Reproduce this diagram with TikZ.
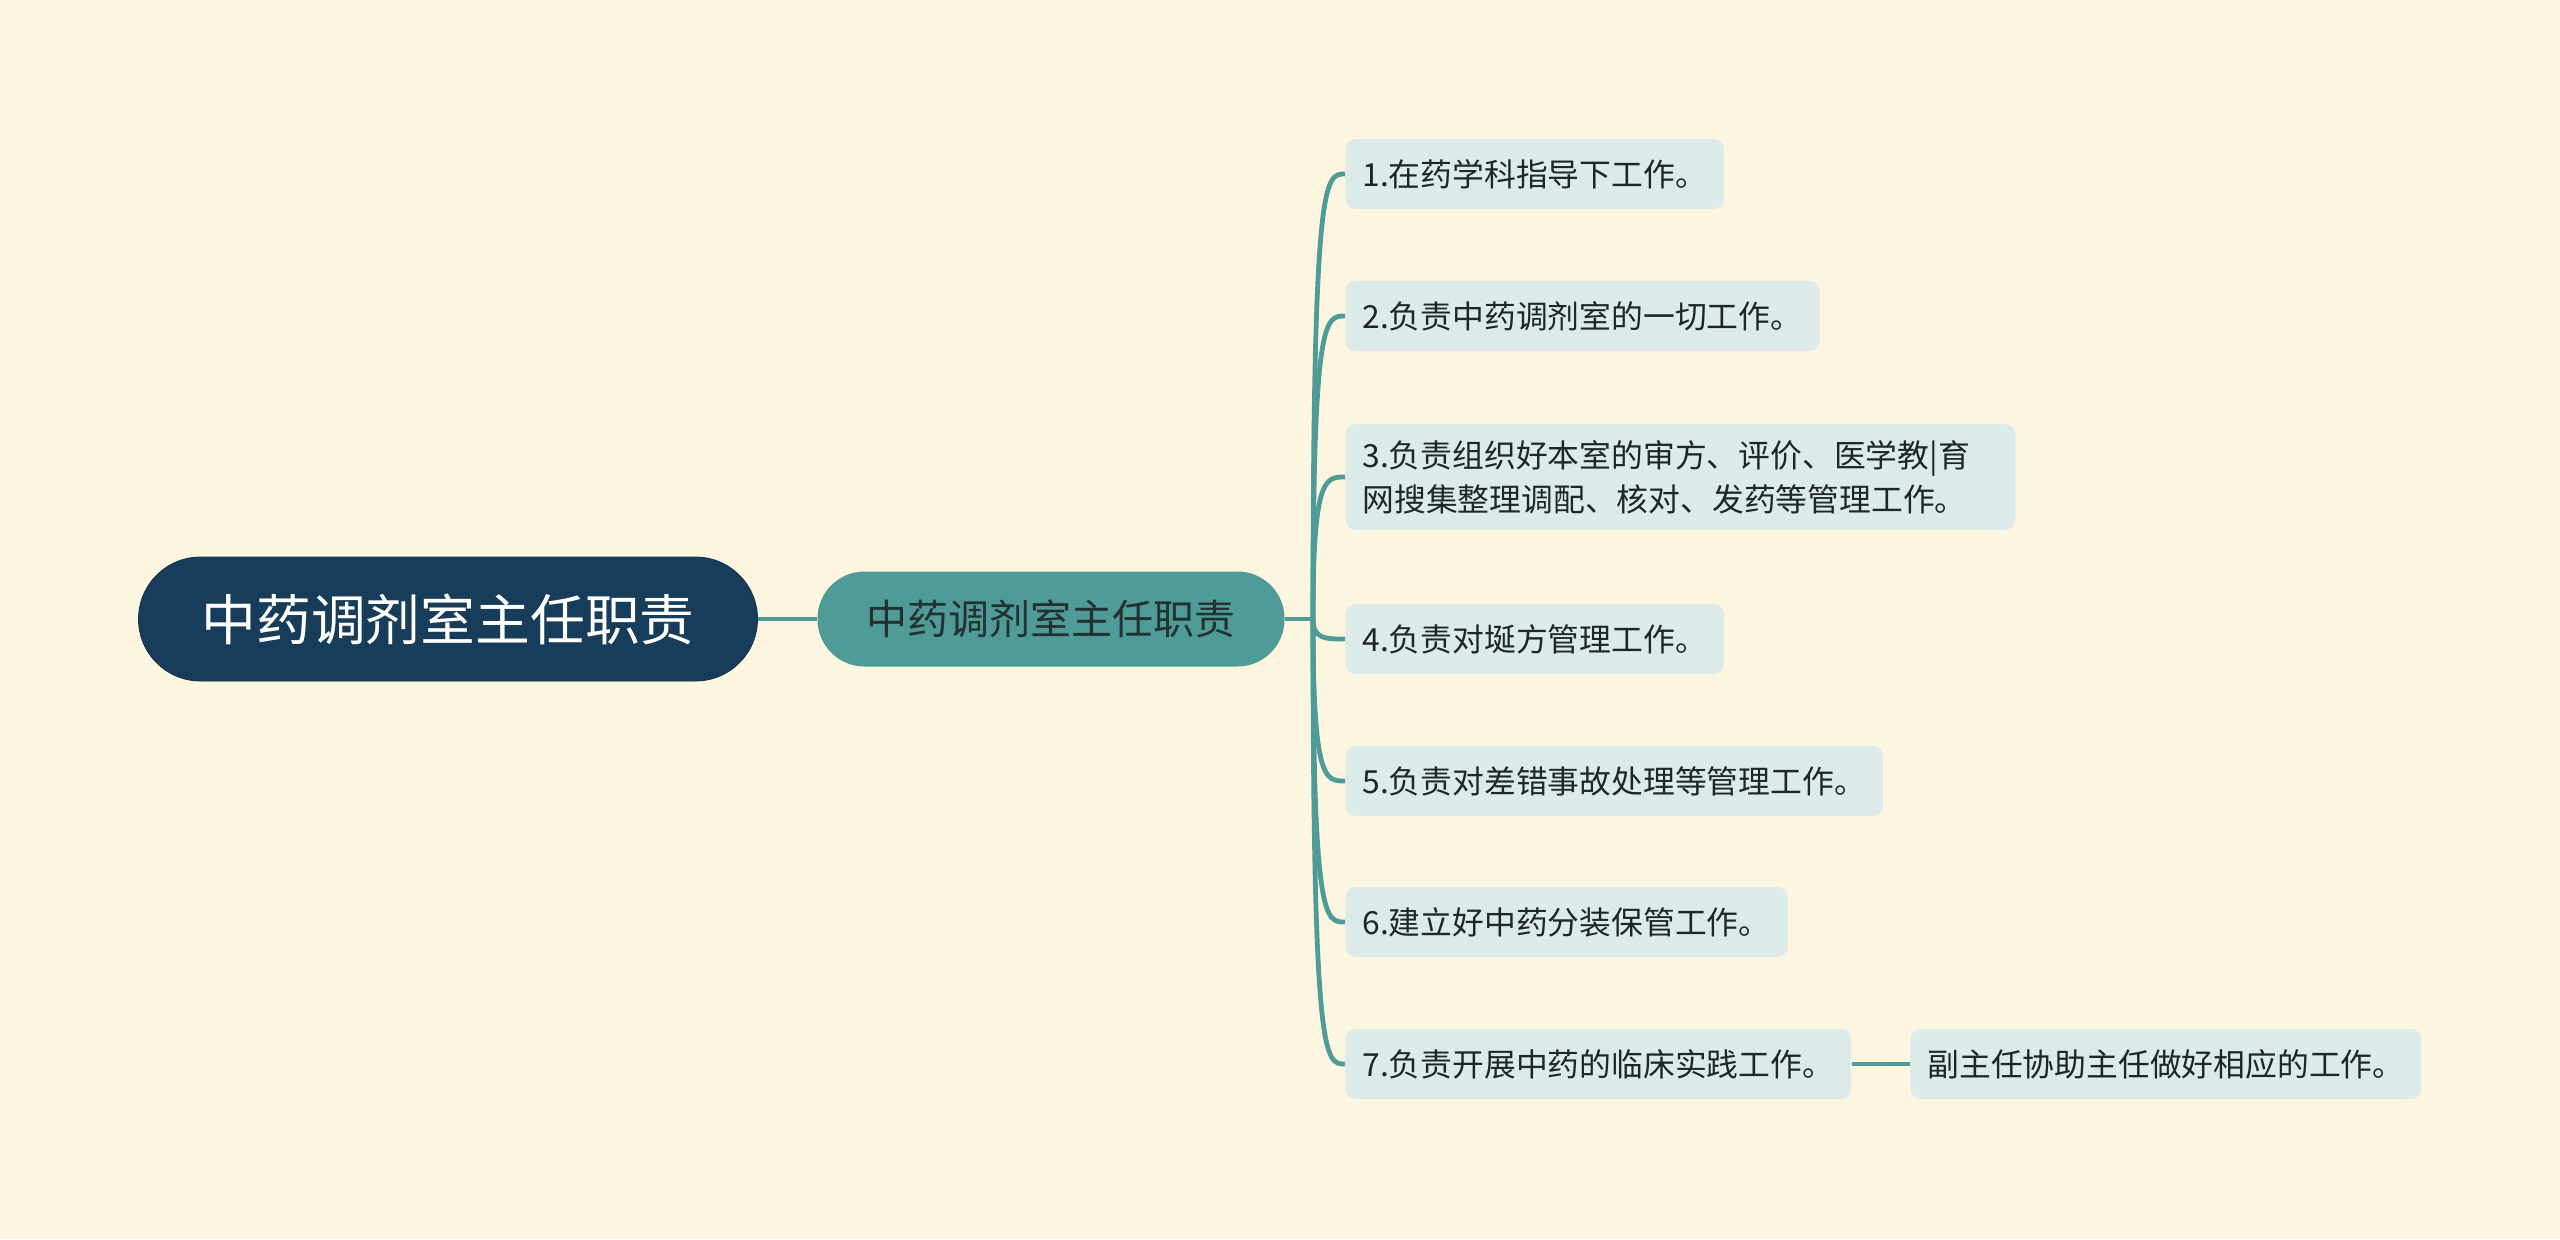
\documentclass[tikz,border=0pt]{standalone}
\usepackage{fontspec}
\setmainfont{Noto Sans CJK SC}
\usepackage{tikz}
\definecolor{bgcream}{HTML}{FCF6E0}
\definecolor{rootnavy}{HTML}{173D5B}
\definecolor{midteal}{HTML}{4E9B98}
\definecolor{leafblue}{HTML}{DCEBEA}
\definecolor{inktext}{HTML}{1E2626}

\begin{document}
\begin{tikzpicture}[x=0.5pt,y=-0.5pt,
    rootnode/.style={fill=rootnavy,draw=rootnavy!80!black,text=white,minimum width=309.5pt,minimum height=62pt,rounded corners=31pt,inner sep=0pt,font=\fontsize{27.4}{32}\selectfont},
    midnode/.style={fill=midteal,text=inktext!90!midteal,minimum width=233.5pt,minimum height=47.5pt,rounded corners=23.5pt,inner sep=0pt,font=\fontsize{20.5}{24}\selectfont},
    leafnode/.style={anchor=west,fill=leafblue,text=inktext,rounded corners=5pt,inner xsep=8.5pt,inner ysep=8pt,minimum height=35pt,align=left,font=\fontsize{15.9}{22}\selectfont},
    branch/.style={draw=midteal,line width=2.4pt}]
    \fill[bgcream] (0,0) rectangle (2560,1239);
    \useasboundingbox (0,0) rectangle (2560,1239);
    \node[rootnode] (root) at (448,619) {中药调剂室主任职责};
    \node[midnode] (mid) at (1051,619) {中药调剂室主任职责};
    \coordinate (hub) at (1313,619);
    \node[leafnode] (l1) at (1345,174) {1.在药学科指导下工作。};
    \node[leafnode] (l2) at (1345,316) {2.负责中药调剂室的一切工作。};
    \node[leafnode,text width=318pt] (l3) at (1345,477) {3.负责组织好本室的审方、评价、医学教|育\\网搜集整理调配、核对、发药等管理工作。};
    \node[leafnode] (l4) at (1345,639) {4.负责对埏方管理工作。};
    \node[leafnode] (l5) at (1345,781) {5.负责对差错事故处理等管理工作。};
    \node[leafnode] (l6) at (1345,922) {6.建立好中药分装保管工作。};
    \node[leafnode] (l7) at (1345,1064) {7.负责开展中药的临床实践工作。};
    \node[leafnode] (l8) at (1910,1064) {副主任协助主任做好相应的工作。};
    \draw[branch] (root.east) -- (mid.west);
    \draw[branch] (mid.east) -- (hub);
    \foreach \leaf in {l1,l2,l3,l4,l5,l6,l7}
      \draw[branch] (hub) .. controls (hub |- \leaf.west) and +(-20,0) .. (\leaf.west);
    \draw[branch] (l7.east) -- (l8.west);
\end{tikzpicture}
\end{document}
